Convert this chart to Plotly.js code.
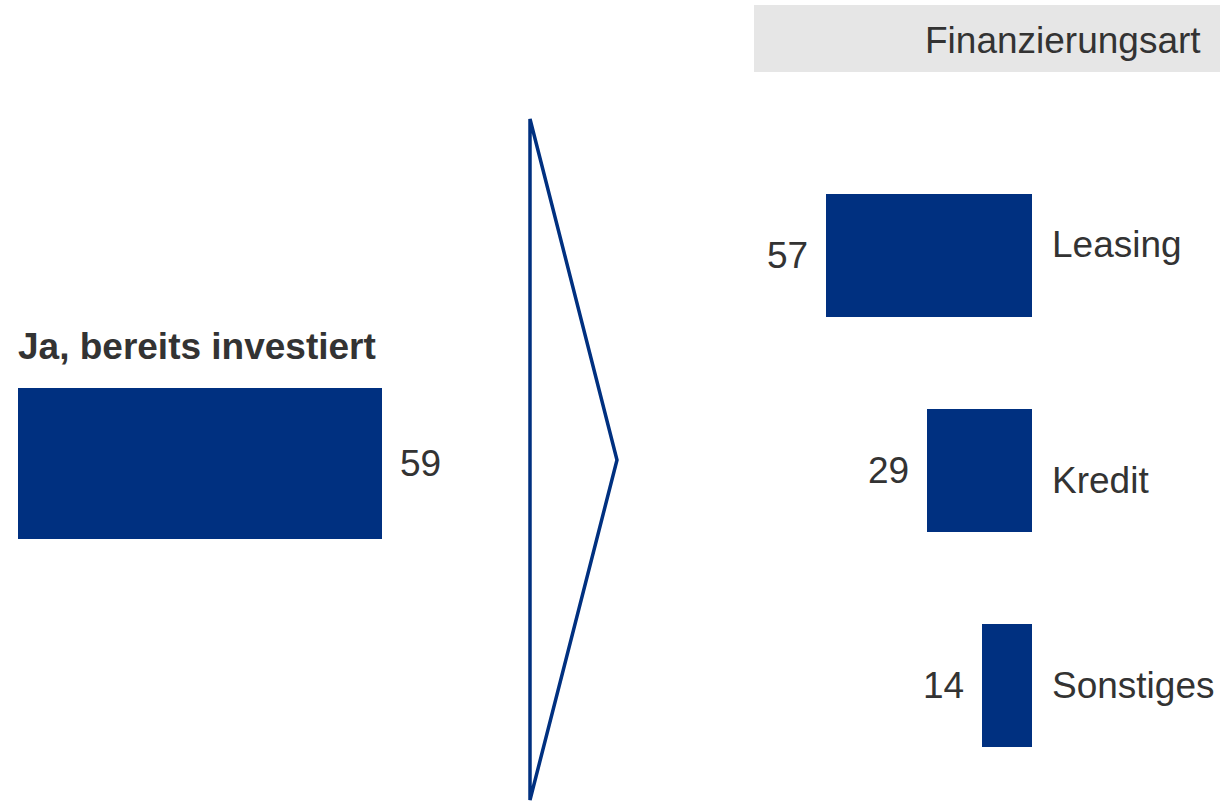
<!DOCTYPE html>
<html>
<head>
<meta charset="utf-8">
<script src="https://cdn.plot.ly/plotly-3.0.1.min.js"></script>
<style>html,body{margin:0;padding:0;background:#fff;}#chart{width:1220px;height:802px;}</style>
</head>
<body>
<div id="chart"></div>
<script>
// ---- data ----
var leftCategory = "Ja, bereits investiert";
var leftValues = [59];
var rightHeader = "Finanzierungsart";
var rightCategories = ["Leasing", "Kredit", "Sonstiges"];
var rightValues = [57, 29, 14];

// ---- styling / layout ----
var W = 1220, H = 802;
var BLUE = "#003080";
var TXT = "#333333";
var FONT = "Arial, 'Liberation Sans', sans-serif";
var FS = 37;
function px(x){ return x / W; }
function py(y){ return 1 - y / H; }

var rightPos = [2, 1, 0];
var labelShift = [11, -10, 0];

var traces = [
  {
    type: "bar", orientation: "h",
    x: leftValues, y: [0], width: 1,
    xaxis: "x", yaxis: "y",
    marker: {color: BLUE, line: {width: 0}},
    hoverinfo: "skip"
  },
  {
    type: "bar", orientation: "h",
    x: rightValues, y: rightPos, width: 0.572,
    xaxis: "x2", yaxis: "y2",
    marker: {color: BLUE, line: {width: 0}},
    hoverinfo: "skip"
  }
];

var annotations = [];
annotations.push({
  xref: "paper", yref: "paper", x: px(1203), y: py(40),
  xanchor: "right", yanchor: "middle", showarrow: false,
  text: rightHeader, font: {family: FONT, size: FS, color: TXT}
});
annotations.push({
  xref: "paper", yref: "paper", x: px(16), y: py(346),
  xanchor: "left", yanchor: "middle", showarrow: false,
  text: "<b>" + leftCategory + "</b>", font: {family: FONT, size: FS, color: TXT}
});
leftValues.forEach(function(v){
  annotations.push({
    xref: "x", yref: "y", x: v, y: 0, xshift: 16,
    xanchor: "left", yanchor: "middle", showarrow: false,
    text: String(v), font: {family: FONT, size: FS, color: TXT}
  });
});
rightValues.forEach(function(v, i){
  annotations.push({
    xref: "x2", yref: "y2", x: v, y: rightPos[i], xshift: -16,
    xanchor: "right", yanchor: "middle", showarrow: false,
    text: String(v), font: {family: FONT, size: FS, color: TXT}
  });
  annotations.push({
    xref: "x2", yref: "y2", x: 0, y: rightPos[i], xshift: 18, yshift: labelShift[i],
    xanchor: "left", yanchor: "middle", showarrow: false,
    text: rightCategories[i], font: {family: FONT, size: FS, color: TXT}
  });
});

var shapes = [
  {
    type: "rect", xref: "paper", yref: "paper",
    x0: px(754), x1: px(1220), y0: py(72), y1: py(5),
    fillcolor: "#e6e6e6", line: {width: 0}, layer: "below"
  },
  {
    type: "path", xref: "paper", yref: "paper",
    path: "M " + px(530) + "," + py(119) + " L " + px(617) + "," + py(460) +
          " L " + px(530) + "," + py(800) + " Z",
    line: {color: BLUE, width: 3.5}, fillcolor: "rgba(0,0,0,0)"
  }
];

var layout = {
  width: W, height: H,
  margin: {l: 0, r: 0, t: 0, b: 0, pad: 0},
  paper_bgcolor: "#ffffff", plot_bgcolor: "rgba(0,0,0,0)",
  showlegend: false,
  xaxis: {domain: [px(18), px(382.3)], range: [0, leftValues[0]], visible: false, fixedrange: true},
  yaxis: {domain: [0, 1], range: [-2.245, 3.077], visible: false, fixedrange: true},
  xaxis2: {domain: [px(826), px(1032.3)], range: [rightValues[0], 0], visible: false, anchor: "y2", fixedrange: true},
  yaxis2: {domain: [0, 1], range: [-0.542, 3.188], visible: false, anchor: "x2", fixedrange: true},
  bargap: 0,
  annotations: annotations,
  shapes: shapes
};

Plotly.newPlot("chart", traces, layout, {staticPlot: true, displayModeBar: false});
</script>
</body>
</html>
